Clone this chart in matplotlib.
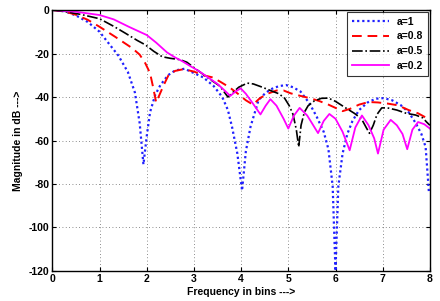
import matplotlib
matplotlib.use("Agg")
import matplotlib.pyplot as plt

plt.rcParams["font.family"] = ["Liberation Sans", "DejaVu Sans"]
plt.rcParams["font.weight"] = "bold"
plt.rcParams["axes.unicode_minus"] = False

# a = 1 (blue dotted)
f_a1 = [0.0, 0.25, 0.5, 0.75, 1.0, 1.2, 1.4, 1.6, 1.75, 1.85, 1.93, 2.0, 2.07, 2.18,
        2.29, 2.45, 2.6, 2.8, 3.0, 3.2, 3.42, 3.6, 3.72, 3.81, 3.92, 4.02, 4.1, 4.2,
        4.37, 4.5, 4.62, 4.8, 4.95, 5.1, 5.26, 5.45, 5.6, 5.75, 5.85, 5.94, 6.0, 6.06,
        6.15, 6.25, 6.36, 6.5, 6.68, 6.85, 7.02, 7.2, 7.38, 7.55, 7.7, 7.82, 7.91, 7.98]
m_a1 = [0, -0.5, -2.5, -5.5, -10, -15.5, -21, -28.5, -38, -52, -71, -58, -47, -39,
        -34.5, -30, -27.8, -27, -29, -31, -35, -40, -46, -54, -66, -83, -65, -53.6,
        -41.4, -38.5, -36.5, -35, -34.5, -35.5, -37.5, -43, -49, -56, -64, -81, -120, -81,
        -66, -57, -51, -46, -42.5, -40.8, -40.5, -41.5, -43.7, -47, -52, -57, -63, -84]

# a = 0.8 (red dashed)
f_a08 = [0.0, 0.25, 0.5, 0.75, 1.0, 1.33, 1.69, 1.85, 1.97, 2.07, 2.13, 2.2, 2.27, 2.35,
         2.46, 2.6, 2.78, 3.0, 3.2, 3.4, 3.56, 3.75, 3.92, 4.1, 4.25, 4.4, 4.56, 4.75,
         4.9, 5.05, 5.26, 5.47, 5.65, 5.85, 6.0, 6.15, 6.3, 6.5, 6.7, 6.9, 7.1, 7.32,
         7.55, 7.75, 7.92, 8.0]
m_a08 = [0, -0.6, -2.2, -4.5, -7.7, -12.3, -17.5, -20.5, -24.5, -29, -35, -42.5, -39, -35,
         -30, -28, -27.2, -28.3, -30, -31, -33, -35.5, -38.3, -41.5, -43.5, -40.5, -38.5, -37,
         -37, -38.3, -39.5, -40.6, -41.8, -43.5, -45, -46.5, -45.5, -43.5, -42.3, -42.5, -43, -43.8,
         -46, -47.5, -49.5, -50.5]

# a = 0.5 (black dash-dot)
f_a05 = [0.0, 0.31, 0.6, 1.0, 1.3, 1.55, 1.8, 1.97, 2.15, 2.33, 2.5, 2.7, 2.85, 3.07,
         3.35, 3.55, 3.72, 3.82, 3.95, 4.13, 4.26, 4.45, 4.62, 4.8, 4.92, 5.02, 5.1, 5.17,
         5.22, 5.27, 5.34, 5.42, 5.55, 5.7, 5.85, 6.0, 6.2, 6.4, 6.55, 6.65, 6.72, 6.8,
         6.88, 6.98, 7.1, 7.3, 7.5, 7.7, 7.85, 7.93, 8.0]
m_a05 = [0, -0.9, -2, -4, -7.5, -10.7, -14, -16, -19, -21.5, -22.2, -22.8, -24, -27.6,
         -32, -35, -40, -38, -35.5, -33.6, -34, -35.5, -37, -38.5, -40.5, -44, -48, -55,
         -63, -53, -47, -44, -41.8, -40.6, -40.5, -42, -44.8, -47.5, -50, -54, -56.7, -53,
         -48, -45, -45, -46, -47.5, -48.3, -49.6, -51.5, -53]

# a = 0.2 (magenta solid)
f_a02 = [0.0, 0.5, 1.0, 1.3, 1.62, 1.85, 2.0, 2.2, 2.43, 2.6, 2.75, 2.9, 3.1, 3.3,
         3.5, 3.65, 3.77, 3.88, 3.99, 4.1, 4.25, 4.41, 4.52, 4.62, 4.75, 4.9, 5.0, 5.12,
         5.24, 5.4, 5.5, 5.63, 5.75, 5.87, 6.0, 6.15, 6.3, 6.42, 6.56, 6.7, 6.82, 6.9,
         7.02, 7.17, 7.3, 7.42, 7.52, 7.63, 7.75, 7.88, 8.0]
m_a02 = [0, -0.8, -2.3, -4.3, -7.7, -10, -11.5, -15, -19.5, -21.8, -23.5, -25.5, -28, -31,
         -34, -37, -39.5, -37.5, -36, -38.5, -43, -48, -44, -41, -44, -50, -54.5, -48.5,
         -45, -48.5, -52, -56.6, -51, -47.8, -50, -56, -64.5, -54, -48.5, -53, -59, -66,
         -55, -50.5, -53, -57, -64, -55, -51.5, -52.5, -54.5]

x_ticks = [0, 1, 2, 3, 4, 5, 6, 7, 8]
y_ticks = [0, -20, -40, -60, -80, -100, -120]


def main():
    fig = plt.figure(figsize=(4.4, 3.01), dpi=100)
    ax = fig.add_axes([0.119, 0.0997, 0.858, 0.867])

    ax.plot(f_a1, m_a1, color="#2020ff", linestyle=(0, (1, 1.3)), lw=1.6, label="a=1")
    ax.plot(f_a08, m_a08, color="#ff0000", linestyle=(0, (5, 3)), lw=1.4, label="a=0.8")
    ax.plot(f_a05, m_a05, color="black", linestyle="-.", lw=1.2, label="a=0.5")
    ax.plot(f_a02, m_a02, color="#ff00ff", linestyle="-", lw=1.3, label="a=0.2")

    ax.set_xlim(0, 8)
    ax.set_ylim(-120, 0)
    ax.set_xticks(x_ticks)
    ax.set_yticks(y_ticks)
    ax.tick_params(direction="in", top=True, right=True, labelsize=7.5, length=3, pad=2)
    for lab in ax.get_xticklabels() + ax.get_yticklabels():
        lab.set_fontweight("bold")
    ax.grid(True, color="black", linestyle=(0, (1, 3)), lw=0.6, alpha=0.6)
    for s in ax.spines.values():
        s.set_linewidth(1.0)

    ax.set_xlabel("Frequency in bins --->", fontsize=7.5, fontweight="bold", labelpad=2)
    ax.set_ylabel("Magnitude in dB --->", fontsize=7.5, fontweight="bold", labelpad=4)

    leg = ax.legend(loc="upper right", fontsize=7.5, frameon=True, fancybox=False,
                    edgecolor="black", handlelength=3.6, borderaxespad=0.2,
                    labelspacing=0.45, borderpad=0.45, handletextpad=0.7)
    leg.get_frame().set_linewidth(0.8)
    for t in leg.get_texts():
        t.set_fontweight("bold")

    fig.savefig("out.png", dpi=100)
    plt.close(fig)


if __name__ == "__main__":
    main()
